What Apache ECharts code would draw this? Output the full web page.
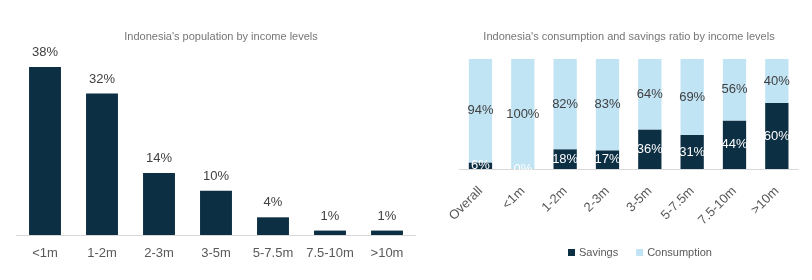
<!DOCTYPE html>
<html><head><meta charset="utf-8">
<script src="https://cdn.jsdelivr.net/npm/echarts@6/dist/echarts.min.js"></script>
<style>html,body{margin:0;padding:0;background:#fff}#c{width:812px;height:280px}</style>
</head><body><div id="c"></div>
<script>
const popCategories = ['<1m','1-2m','2-3m','3-5m','5-7.5m','7.5-10m','>10m'];
const popValues = [38, 32, 14, 10, 4, 1, 1];
const ratioCategories = ['Overall','<1m','1-2m','2-3m','3-5m','5-7.5m','7.5-10m','>10m'];
const savingsValues = [6, 0, 18, 17, 36, 31, 44, 60];
const consumptionValues = [94, 100, 82, 83, 64, 69, 56, 40];

const DARK = '#0D2F43', LIGHT = '#C1E4F4';
const FONT = 'Liberation Sans, Arial, sans-serif';
const chart = echarts.init(document.getElementById('c'), null, {renderer:'canvas'});
chart.setOption({
  backgroundColor:'#fff',
  animation:false,
  title:[
    {text:"Indonesia's population by income levels", left:216, top:26, textAlign:'center',
     textStyle:{fontSize:11, fontWeight:'normal', color:'#767676', fontFamily:FONT}},
    {text:"Indonesia's consumption and savings ratio by income levels", left:624, top:26, textAlign:'center',
     textStyle:{fontSize:11, fontWeight:'normal', color:'#767676', fontFamily:FONT}}
  ],
  legend:{data:['Savings','Consumption'], left:563, top:242, itemWidth:7, itemHeight:7, itemGap:18,
    icon:'rect', textStyle:{fontSize:11, color:'#595959', fontFamily:FONT, padding:[0,0,0,-1]}},
  grid:[
    {left:16.5, width:399, top:67, height:168},
    {left:459.3, width:338.7, top:59, height:110}
  ],
  xAxis:[
    {type:'category', gridIndex:0, data:popCategories,
     axisLine:{lineStyle:{color:'#D9D9D9'}}, axisTick:{show:false},
     axisLabel:{fontSize:13, color:'#595959', fontFamily:FONT, margin:12, interval:0}},
    {type:'category', gridIndex:1, data:ratioCategories,
     axisLine:{lineStyle:{color:'#D9D9D9'}}, axisTick:{show:false},
     axisLabel:{fontSize:13, color:'#595959', fontFamily:FONT, margin:20, rotate:45, interval:0}}
  ],
  yAxis:[
    {type:'value', gridIndex:0, min:0, max:38, show:false},
    {type:'value', gridIndex:1, min:0, max:100, show:false}
  ],
  series:[
    {type:'bar', xAxisIndex:0, yAxisIndex:0, data:popValues, barWidth:'56%',
     itemStyle:{color:DARK},
     label:{show:true, position:'top', distance:8, formatter:'{c}%', fontSize:13, color:'#404040', fontFamily:FONT}},
    {name:'Savings', type:'bar', stack:'r', xAxisIndex:1, yAxisIndex:1, data:savingsValues, barWidth:'55%',
     itemStyle:{color:DARK},
     label:{show:true, position:'inside', formatter:'{c}%', fontSize:13, color:'#fff', fontFamily:FONT}},
    {name:'Consumption', type:'bar', stack:'r', xAxisIndex:1, yAxisIndex:1, data:consumptionValues, barWidth:'55%',
     itemStyle:{color:LIGHT},
     label:{show:true, position:'inside', formatter:'{c}%', fontSize:13, color:'#404040', fontFamily:FONT}}
  ]
});
</script></body></html>
